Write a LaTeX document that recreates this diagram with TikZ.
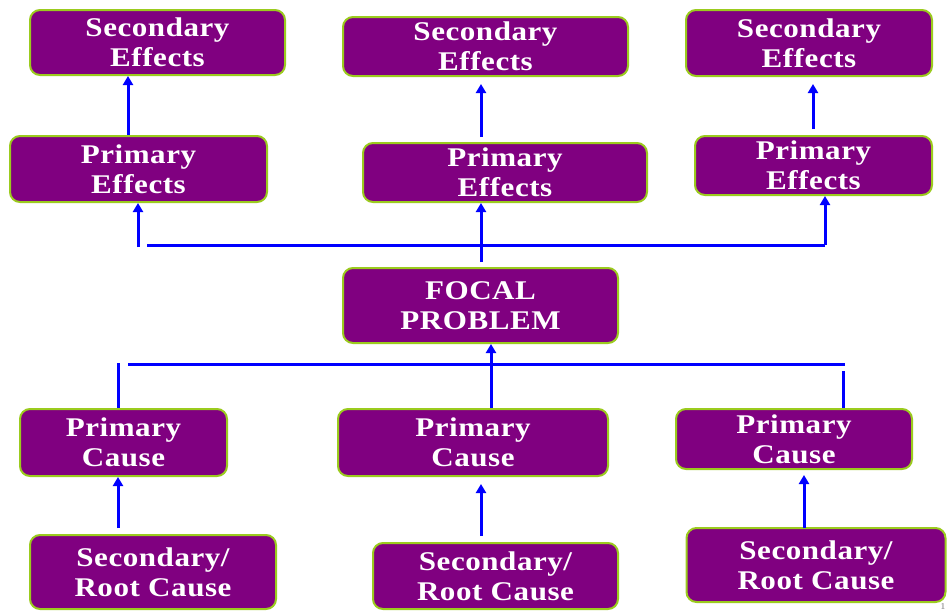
\documentclass[tikz,border=0pt]{standalone}
\usepackage{fontspec}
\setmainfont{Liberation Serif}[FakeStretch=1.15,LetterSpace=2]
\usetikzlibrary{arrows.meta}
\definecolor{boxfill}{HTML}{800080}
\definecolor{boxedge}{HTML}{9BCB1E}
\definecolor{conn}{HTML}{0000FF}
\begin{document}
\begin{tikzpicture}[x=1pt,y=-1pt,
  box/.style={draw=boxedge, line width=2pt, fill=boxfill, rounded corners=10pt,
    text=white, font=\fontsize{27}{30}\selectfont\bfseries, align=center, inner sep=0pt},
  link/.style={draw=conn, line width=3pt},
  arr/.style={link, -{Triangle[width=10pt,length=9pt]}}]
\useasboundingbox (0,0) rectangle (948,611);

% effects
\node[box, minimum width=255pt, minimum height=65pt] (SE1) at (157.5,42.5) {Secondary\\Effects};
\node[box, minimum width=285pt, minimum height=59pt] (SE2) at (485.5,46.5) {Secondary\\Effects};
\node[box, minimum width=246pt, minimum height=66pt] (SE3) at (809,43) {Secondary\\Effects};
\node[box, minimum width=257pt, minimum height=66pt] (PE1) at (138.5,169) {Primary\\Effects};
\node[box, minimum width=284pt, minimum height=59pt] (PE2) at (505,172.5) {Primary\\Effects};
\node[box, minimum width=237pt, minimum height=59pt] (PE3) at (813.5,165.5) {Primary\\Effects};
% focal problem
\node[box, minimum width=275pt, minimum height=75pt] (FP) at (480.5,305.5) {FOCAL\\PROBLEM};
% causes
\node[box, minimum width=207pt, minimum height=67pt] (PC1) at (123.5,442.5) {Primary\\Cause};
\node[box, minimum width=270pt, minimum height=67pt] (PC2) at (473,442.5) {Primary\\Cause};
\node[box, minimum width=236pt, minimum height=60pt] (PC3) at (794,439) {Primary\\Cause};
\node[box, minimum width=246pt, minimum height=74pt] (SR1) at (153,572) {Secondary/\\Root Cause};
\node[box, minimum width=245pt, minimum height=66pt] (SR2) at (495.5,576) {Secondary/\\Root Cause};
\node[box, minimum width=259pt, minimum height=74pt] (SR3) at (816,565) {Secondary/\\Root Cause};

% primary -> secondary effects
\draw[arr] (128,0 |- PE1.north) -- (128,0 |- SE1.south);
\coordinate (e2s) at (481,137); \coordinate (e2t) at (481,84);
\draw[arr] (e2s) -- (e2t);
\coordinate (e3s) at (813,129); \coordinate (e3t) at (813,84);
\draw[arr] (e3s) -- (e3t);

% focal -> primary effects
\coordinate (hL) at (147,245); \coordinate (hR) at (825,245);
\draw[link] (hL) -- (hR);
\coordinate (v1) at (138,247);
\draw[arr] (v1) -- (v1 |- PE1.south);
\draw[arr] (hR) -- (hR |- PE3.south);
\coordinate (fpTop) at (481,262);
\draw[arr] (fpTop) -- (fpTop |- PE2.south);

% causes -> focal
\coordinate (lL) at (128,364); \coordinate (lR) at (845,364);
\draw[link] (lL) -- (lR);
\draw[arr] (491,0 |- PC2.north) -- (491,0 |- FP.south);
\coordinate (c1) at (118,363);
\draw[link] (c1) -- (c1 |- PC1.north);
\coordinate (c3) at (843,371);
\draw[link] (c3) -- (c3 |- PC3.north);

% secondary/root -> primary cause
\coordinate (r1) at (118,528);
\draw[arr] (r1) -- (r1 |- PC1.south);
\coordinate (r2s) at (481,536); \coordinate (r2t) at (481,484);
\draw[arr] (r2s) -- (r2t);
\coordinate (r3s) at (804,528); \coordinate (r3t) at (804,475);
\draw[arr] (r3s) -- (r3t);

% page number
\node[text=gray, font=\fontsize{9}{10}\selectfont, inner sep=0pt, anchor=south] (pg) at (943,610) {1};
\end{tikzpicture}
\end{document}
